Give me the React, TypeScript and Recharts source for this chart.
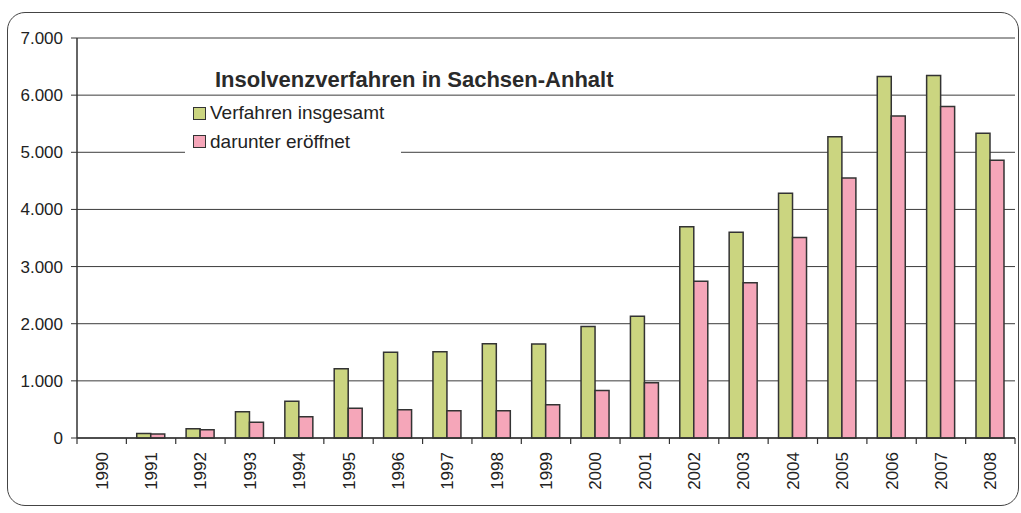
import React from 'react';
import { BarChart, Bar, XAxis, YAxis, CartesianGrid, Legend } from 'recharts';

const years = ['1990', '1991', '1992', '1993', '1994', '1995', '1996', '1997', '1998', '1999', '2000', '2001', '2002', '2003', '2004', '2005', '2006', '2007', '2008'];
const insgesamt = [0, 80, 160, 460, 645, 1210, 1500, 1510, 1650, 1645, 1950, 2130, 3695, 3600, 4285, 5270, 6325, 6345, 5335];
const eroeffnet = [0, 70, 145, 275, 370, 520, 495, 478, 475, 580, 830, 965, 2745, 2715, 3510, 4550, 5635, 5800, 4860];
const yTicks = [0, 1000, 2000, 3000, 4000, 5000, 6000, 7000];
const seriesNames = ['Verfahren insgesamt', 'darunter eröffnet'];
const title = 'Insolvenzverfahren in Sachsen-Anhalt';

const data = years.map((y, i) => ({ year: y, insgesamt: insgesamt[i], eroeffnet: eroeffnet[i] }));

const W = 1021;
const H = 513;
const M_TOP = 38;
const M_RIGHT = 6;
const Y_W = 77;
const X_H = 75;
const PLOT_W = W - Y_W - M_RIGHT;
const BW = PLOT_W / years.length;

const GREEN = '#cbd580';
const PINK = '#f5a6b9';
const EDGE = '#333333';
const FONT = '"Liberation Sans", Arial, sans-serif';

const fmt = (v: number) => v.toString().replace(/\B(?=(\d{3})+(?!\d))/g, '.');

const XTick = (props: any) => {
  const { x, y, payload, index } = props;
  const ty = y + 14;
  const tx = x + 6;
  return (
    <g>
      <line x1={x - BW / 2} x2={x - BW / 2} y1={y} y2={y + 6} stroke={EDGE} strokeWidth={1.2} />
      {index === years.length - 1 && (
        <line x1={x + BW / 2} x2={x + BW / 2} y1={y} y2={y + 6} stroke={EDGE} strokeWidth={1.2} />
      )}
      <text
        x={tx}
        y={ty}
        transform={`rotate(-90, ${tx}, ${ty})`}
        textAnchor="end"
        fontSize={17}
        fontFamily={FONT}
        fill="#222"
      >
        {payload.value}
      </text>
    </g>
  );
};

const renderLegend = (props: any) => {
  const payload = props.payload || [];
  return (
    <div style={{ fontFamily: FONT, fontSize: 19, color: '#222' }}>
      {payload.map((p: any, i: number) => (
        <div key={i} style={{ display: 'flex', alignItems: 'center', height: 28.5, lineHeight: '28.5px' }}>
          <span
            style={{
              display: 'inline-block',
              width: 11,
              height: 11,
              marginLeft: 8,
              marginRight: 4,
              background: p.color,
              border: `1.5px solid ${EDGE}`,
            }}
          />
          <span>{p.value}</span>
        </div>
      ))}
    </div>
  );
};

export default function App() {
  return (
    <div style={{ position: 'absolute', left: 0, top: 0, width: W, height: H, background: '#fff', overflow: 'hidden' }}>
      <div
        style={{
          position: 'absolute',
          left: 7,
          top: 12,
          width: 1012,
          height: 494,
          border: '1.5px solid #444',
          borderRadius: 18,
          boxSizing: 'border-box',
        }}
      />
      <BarChart
        width={W}
        height={H}
        data={data}
        margin={{ top: M_TOP, right: M_RIGHT, bottom: 0, left: 0 }}
        barCategoryGap="21%"
        barGap={0}
      >
        <CartesianGrid vertical={false} stroke="#3c3c3c" strokeWidth={1} />
        <XAxis
          dataKey="year"
          height={X_H}
          interval={0}
          tick={<XTick />}
          tickLine={false}
          tickSize={0}
          tickMargin={0}
          axisLine={{ stroke: EDGE, strokeWidth: 1.5 }}
        />
        <YAxis
          width={Y_W}
          domain={[0, 7000]}
          ticks={yTicks}
          interval={0}
          tickFormatter={fmt}
          tickSize={6}
          tickMargin={8}
          tick={{ fontSize: 17, fill: '#222', fontFamily: FONT }}
          axisLine={{ stroke: EDGE, strokeWidth: 1.5 }}
          tickLine={{ stroke: EDGE }}
        />
        <YAxis
          yAxisId="r"
          orientation="right"
          width={0}
          tick={false}
          tickLine={false}
          axisLine={{ stroke: '#8a86a0', strokeWidth: 1.2 }}
        />
        <Legend
          layout="vertical"
          align="center"
          verticalAlign="middle"
          content={renderLegend}
          wrapperStyle={{ position: 'absolute', left: 185, top: 99, width: 216, height: 58, backgroundColor: '#fff' }}
        />
        <Bar dataKey="insgesamt" name={seriesNames[0]} fill={GREEN} stroke={EDGE} strokeWidth={1.5} isAnimationActive={false} />
        <Bar dataKey="eroeffnet" name={seriesNames[1]} fill={PINK} stroke={EDGE} strokeWidth={1.5} isAnimationActive={false} />
      </BarChart>
      <div
        style={{
          position: 'absolute',
          left: 215,
          top: 69,
          fontFamily: FONT,
          fontSize: 22,
          lineHeight: '22px',
          fontWeight: 'bold',
          color: '#2a2a2a',
          whiteSpace: 'nowrap',
        }}
      >
        {title}
      </div>
    </div>
  );
}
